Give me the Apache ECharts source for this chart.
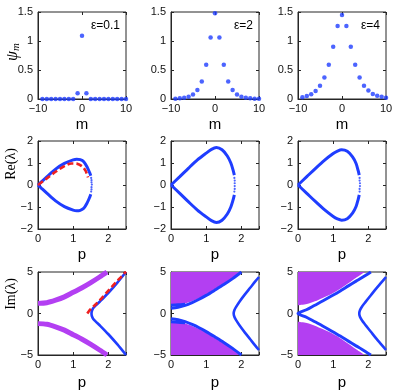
<!DOCTYPE html>
<html>
<head>
<meta charset="utf-8">
<script src="https://cdn.jsdelivr.net/npm/echarts@6/dist/echarts.min.js"></script>
<style>
html, body { margin: 0; padding: 0; background: #fff; }
#chart { width: 399px; height: 391px; }
</style>
</head>
<body>
<div id="chart"></div>
<script>
// row 1: psi_m over lattice sites
var mSites = [-9, -8, -7, -6, -5, -4, -3, -2, -1, 0, 1, 2, 3, 4, 5, 6, 7, 8, 9, 10];
var psiEps01 = [0, 0, 0, 0, 0, 0, 0, 0, 0.1, 1.09, 0.1, 0, 0, 0, 0, 0, 0, 0, 0, 0];
var psiEps2 = [0.006, 0.012, 0.023, 0.04, 0.076, 0.157, 0.30, 0.59, 1.06, 1.48, 1.06, 0.59, 0.30, 0.157, 0.076, 0.04, 0.023, 0.012, 0.006, 0.003];
var psiEps4 = [0.03, 0.05, 0.08, 0.14, 0.23, 0.37, 0.59, 0.90, 1.26, 1.45, 1.26, 0.90, 0.59, 0.37, 0.23, 0.145, 0.087, 0.058, 0.04, 0.023];
var epsLabels = ['\u03b5=0.1', '\u03b5=2', '\u03b5=4'];

// row 2: Re(lambda) vs p   [p, Re]
var reUp01 = [[0, 0], [0.1, 0.15], [0.25, 0.37], [0.5, 0.72], [0.75, 0.98], [1.0, 1.14], [1.1, 1.17], [1.2, 1.15], [1.3, 1.06], [1.4, 0.8], [1.47, 0.55], [1.5, 0.42]];
var reLo01 = [[0, 0], [0.1, -0.15], [0.25, -0.37], [0.5, -0.72], [0.75, -0.98], [1.0, -1.14], [1.1, -1.17], [1.2, -1.15], [1.3, -1.06], [1.4, -0.8], [1.47, -0.55], [1.5, -0.42]];
var reTip01 = [[1.51, 0.32], [1.52, 0.22], [1.52, 0.12], [1.53, 0.02], [1.52, -0.1], [1.52, -0.2], [1.51, -0.3]];
var reDash01 = [[0, 0], [0.25, 0.3], [0.5, 0.6], [0.75, 0.86], [0.95, 0.98], [1.1, 0.97], [1.25, 0.85], [1.35, 0.65], [1.42, 0.35]];

var reUp2 = [[0, 0], [0.25, 0.38], [0.5, 0.77], [0.75, 1.14], [1.0, 1.45], [1.15, 1.62], [1.29, 1.70], [1.45, 1.6], [1.6, 1.32], [1.7, 1.0], [1.76, 0.7], [1.8, 0.45]];
var reLo2 = [[0, 0], [0.25, -0.38], [0.5, -0.77], [0.75, -1.14], [1.0, -1.45], [1.15, -1.62], [1.29, -1.70], [1.45, -1.6], [1.6, -1.32], [1.7, -1.0], [1.76, -0.7], [1.8, -0.45]];
var reTip2 = [[1.8, 0.32], [1.81, 0.2], [1.81, 0.08], [1.81, -0.05], [1.81, -0.18], [1.8, -0.3]];

var reUp4 = [[0, 0], [0.25, 0.38], [0.5, 0.76], [0.75, 1.12], [1.0, 1.43], [1.12, 1.54], [1.24, 1.6], [1.4, 1.53], [1.55, 1.28], [1.65, 0.98], [1.71, 0.65], [1.74, 0.45]];
var reLo4 = [[0, 0], [0.25, -0.38], [0.5, -0.76], [0.75, -1.12], [1.0, -1.43], [1.12, -1.54], [1.24, -1.6], [1.4, -1.53], [1.55, -1.28], [1.65, -0.98], [1.71, -0.65], [1.74, -0.45]];
var reTip4 = [[1.75, 0.32], [1.75, 0.2], [1.76, 0.08], [1.76, -0.05], [1.75, -0.18], [1.75, -0.3]];

// row 3: Im(lambda) vs p   [p, Im]
var bandUp01 = [[0, 1.22], [0.25, 1.3], [0.5, 1.6], [0.75, 2.0], [1.0, 2.55], [1.25, 3.1], [1.5, 3.72], [1.75, 4.4], [1.96, 5.0]];
var bandLo01 = [[0, -1.22], [0.25, -1.3], [0.5, -1.6], [0.75, -2.0], [1.0, -2.55], [1.25, -3.1], [1.5, -3.72], [1.75, -4.4], [1.96, -5.0]];
var arc01 = [[2.5, -5.0], [2.25, -3.7], [2.0, -2.5], [1.76, -1.45], [1.65, -1.0], [1.57, -0.65], [1.53, -0.3], [1.52, 0], [1.53, 0.3], [1.57, 0.65], [1.65, 1.0], [1.76, 1.45], [2.0, 2.5], [2.25, 3.7], [2.5, 5.0]];
var imDash01 = [[1.4, 0], [1.5, 0.55], [1.65, 1.15], [1.8, 1.8], [2.0, 2.75], [2.2, 3.7], [2.35, 4.35], [2.5, 5.05]];

var fillUp2 = [[0, 1.0], [0.2, 1.05], [0.4, 1.2], [0.6, 1.5], [0.8, 1.85], [1.0, 2.3], [1.25, 2.95], [1.5, 3.6], [1.75, 4.3], [1.95, 5.0]];
var fillLo2 = [[0, -1.0], [0.2, -1.05], [0.4, -1.2], [0.6, -1.5], [0.8, -1.85], [1.0, -2.3], [1.25, -2.95], [1.5, -3.6], [1.75, -4.3], [1.95, -5.0]];
var edgeUp2 = [[0, 0.62], [0.2, 0.75], [0.4, 0.98], [0.6, 1.32], [0.8, 1.72], [1.0, 2.18], [1.25, 2.82], [1.5, 3.48], [1.75, 4.2], [2.0, 5.0]];
var edgeLo2 = [[0, -0.62], [0.2, -0.75], [0.4, -0.98], [0.6, -1.32], [0.8, -1.72], [1.0, -2.18], [1.25, -2.82], [1.5, -3.48], [1.75, -4.2], [2.0, -5.0]];
var stubUp2 = [[0, 1.0], [0.2, 1.04], [0.4, 1.12]];
var stubLo2 = [[0, -1.0], [0.2, -1.04], [0.4, -1.12]];
var arc2 = [[2.5, -4.4], [2.4, -3.9], [2.25, -3.1], [2.1, -2.3], [1.95, -1.45], [1.85, -0.8], [1.8, -0.4], [1.78, 0], [1.8, 0.4], [1.85, 0.8], [1.95, 1.45], [2.1, 2.3], [2.25, 3.1], [2.4, 3.9], [2.5, 4.4]];

var fillUp4 = [[0, 1.0], [0.25, 1.15], [0.48, 1.47], [0.7, 1.88], [0.95, 2.36], [1.2, 2.98], [1.43, 3.64], [1.65, 4.3], [1.9, 5.0]];
var fillLo4 = [[0, -1.0], [0.25, -1.15], [0.48, -1.47], [0.7, -1.88], [0.95, -2.36], [1.2, -2.98], [1.43, -3.64], [1.65, -4.3], [1.9, -5.0]];
var edge4 = [[2.07, -5.0], [1.81, -4.3], [1.65, -3.9], [1.43, -3.33], [1.2, -2.72], [0.95, -2.1], [0.7, -1.5], [0.48, -1.0], [0.24, -0.45], [0, 0], [0.24, 0.45], [0.48, 1.0], [0.7, 1.5], [0.95, 2.1], [1.2, 2.72], [1.43, 3.33], [1.65, 3.9], [1.81, 4.3], [2.07, 5.0]];
var arc4 = [[2.5, -4.4], [2.37, -3.75], [2.22, -3.0], [2.07, -2.2], [1.92, -1.4], [1.82, -0.85], [1.76, -0.4], [1.74, 0], [1.76, 0.4], [1.82, 0.85], [1.92, 1.4], [2.07, 2.2], [2.22, 3.0], [2.37, 3.75], [2.5, 4.4]];

var BLUE = '#1f3dff', PURPLE = '#b33ff2', RED = '#ee2020', AXIS = '#262626';
var colLeft = [38, 171, 298];
var rowTop = [12, 141, 272];
var rowH = [87, 88, 86];
var panelW = 88;

var xCfg = [
  {min: -10, max: 10, interval: 10, name: 'm', gap: 18},
  {min: 0, max: 2.5, interval: 1, name: 'p', gap: 18},
  {min: 0, max: 2.5, interval: 1, name: 'p', gap: 20}
];
var yCfg = [
  {min: 0, max: 1.5, interval: 0.5},
  {min: -2, max: 2, interval: 1},
  {min: -5, max: 5, interval: 5}
];

function minus(v) {
  return String(v).replace('-', '\u2212');
}

var grids = [], xAxes = [], yAxes = [], series = [];
var mirrorX = [], mirrorY = [];
for (var r = 0; r < 3; r++) {
  for (var c = 0; c < 3; c++) {
    var k = r * 3 + c;
    grids.push({
      left: colLeft[c], top: rowTop[r], width: panelW, height: rowH[r],
      show: true, borderColor: AXIS, borderWidth: 1, backgroundColor: 'transparent'
    });
    xAxes.push({
      type: 'value', gridIndex: k,
      min: xCfg[r].min, max: xCfg[r].max, interval: xCfg[r].interval,
      name: xCfg[r].name, nameLocation: 'middle', nameGap: xCfg[r].gap,
      nameTextStyle: {fontFamily: 'Liberation Sans', fontSize: 15, color: '#000'},
      axisLine: {show: true, onZero: false, lineStyle: {color: AXIS}},
      axisTick: {inside: true, length: 3, lineStyle: {color: AXIS}},
      splitLine: {show: false},
      axisLabel: {
        fontFamily: 'Liberation Sans', fontSize: 11, color: '#111', margin: 4,
        formatter: function (v) { return v === 2.5 ? '' : minus(v); }
      }
    });
    yAxes.push({
      type: 'value', gridIndex: k,
      min: yCfg[r].min, max: yCfg[r].max, interval: yCfg[r].interval,
      axisLine: {show: true, onZero: false, lineStyle: {color: AXIS}},
      axisTick: {inside: true, length: 3, lineStyle: {color: AXIS}},
      splitLine: {show: false},
      axisLabel: {
        fontFamily: 'Liberation Sans', fontSize: 11, color: '#111', margin: 5,
        formatter: function (v) { return minus(v); }
      }
    });
    // box ticks on top and right, like the original
    mirrorX.push({
      type: 'value', gridIndex: k, position: 'top',
      min: xCfg[r].min, max: xCfg[r].max, interval: xCfg[r].interval,
      axisLine: {show: false, onZero: false}, axisLabel: {show: false}, splitLine: {show: false},
      axisTick: {inside: true, length: 3, lineStyle: {color: AXIS}}
    });
    mirrorY.push({
      type: 'value', gridIndex: k, position: 'right',
      min: yCfg[r].min, max: yCfg[r].max, interval: yCfg[r].interval,
      axisLine: {show: false, onZero: false}, axisLabel: {show: false}, splitLine: {show: false},
      axisTick: {inside: true, length: 3, lineStyle: {color: AXIS}}
    });
  }
}
xAxes = xAxes.concat(mirrorX);
yAxes = yAxes.concat(mirrorY);

function zip(xs, ys) {
  return xs.map(function (x, i) { return [x, ys[i]]; });
}

function dots(k, data, size) {
  series.push({
    type: 'scatter', xAxisIndex: k, yAxisIndex: k, data: data,
    symbolSize: size, itemStyle: {color: BLUE}, silent: true, z: 3
  });
}

function curve(k, data, color, width, dash, z) {
  series.push({
    type: 'line', xAxisIndex: k, yAxisIndex: k, data: data,
    symbol: 'none', smooth: 0.3, clip: true, silent: true, z: z || 3,
    lineStyle: {color: color, width: width, type: dash || 'solid'}
  });
}

function fill(k, data, origin) {
  series.push({
    type: 'line', xAxisIndex: k, yAxisIndex: k, data: data,
    symbol: 'none', smooth: 0.3, silent: true, z: 1,
    lineStyle: {width: 0},
    areaStyle: {color: PURPLE, opacity: 1, origin: origin}
  });
}

// row 1
dots(0, zip(mSites, psiEps01), 4.5);
dots(1, zip(mSites, psiEps2), 4.5);
dots(2, zip(mSites, psiEps4), 4.5);

// row 2
curve(3, reUp01, BLUE, 3);
curve(3, reLo01, BLUE, 3);
dots(3, reTip01, 2.2);
curve(3, reDash01, RED, 2.6, [6, 3], 4);
curve(4, reUp2, BLUE, 3);
curve(4, reLo2, BLUE, 3);
dots(4, reTip2, 2.2);
curve(5, reUp4, BLUE, 3);
curve(5, reLo4, BLUE, 3);
dots(5, reTip4, 2.2);

// row 3
curve(6, bandUp01, PURPLE, 5);
curve(6, bandLo01, PURPLE, 5);
curve(6, arc01, BLUE, 2.6);
curve(6, imDash01, RED, 2.6, [6, 3], 4);
fill(7, fillUp2, 'end');
fill(7, fillLo2, 'start');
curve(7, edgeUp2, BLUE, 3);
curve(7, edgeLo2, BLUE, 3);
curve(7, stubUp2, BLUE, 3);
curve(7, stubLo2, BLUE, 3);
curve(7, arc2, BLUE, 2.6);
fill(8, fillUp4, 'end');
fill(8, fillLo4, 'start');
curve(8, edge4, BLUE, 3);
curve(8, arc4, BLUE, 2.6);

var graphics = [];
for (var e = 0; e < 3; e++) {
  graphics.push({
    type: 'text', x: colLeft[e] + panelW - 6, y: 26,
    style: {text: epsLabels[e], font: '12px "Liberation Sans"', fill: '#000',
      textAlign: 'right', textVerticalAlign: 'middle', align: 'right', verticalAlign: 'middle'}
  });
}
var yTitles = [
  {x: 13, y: 52, text: '{a|\u03c8}{b|m}'},
  {x: 11, y: 164, text: 'Re(\u03bb)'},
  {x: 11, y: 294, text: 'Im(\u03bb)'}
];
yTitles.forEach(function (t) {
  graphics.push({
    type: 'text', x: t.x, y: t.y, rotation: Math.PI / 2,
    style: {
      text: t.text, font: '14px "Liberation Serif"', fill: '#000',
      textAlign: 'center', textVerticalAlign: 'middle', align: 'center', verticalAlign: 'middle',
      rich: {
        a: {font: 'italic 16px "Liberation Serif"', fill: '#000'},
        b: {font: 'italic 11px "Liberation Serif"', fill: '#000', padding: [7, 0, 0, 0]}
      }
    }
  });
});

var chart = echarts.init(document.getElementById('chart'), null, {renderer: 'canvas'});
chart.setOption({
  animation: false,
  backgroundColor: '#fff',
  grid: grids,
  xAxis: xAxes,
  yAxis: yAxes,
  series: series,
  graphic: graphics
});
</script>
</body>
</html>
